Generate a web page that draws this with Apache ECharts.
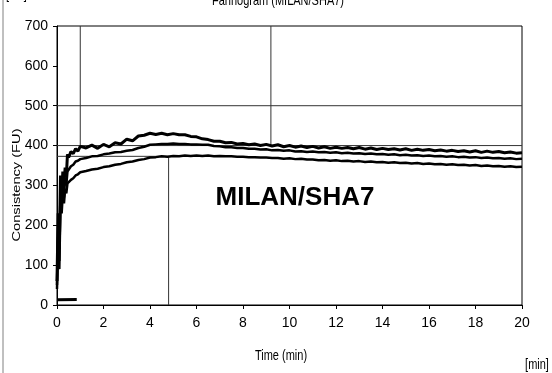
<!DOCTYPE html>
<html>
<head>
<meta charset="utf-8">
<script src="https://cdn.jsdelivr.net/npm/echarts@6/dist/echarts.min.js"></script>
<style>
  html, body { margin: 0; padding: 0; background: #fff; }
  #chart { width: 552px; height: 373px; }
</style>
</head>
<body>
<div id="chart"></div>
<script>
// time axis (min)
const times = [
  0, 0.05, 0.1, 0.15, 0.2, 0.25, 0.3, 0.35, 0.4, 0.45, 0.5, 0.6, 0.7, 0.8, 0.9, 1.0,
  1.25, 1.5, 1.75, 2, 2.25, 2.5, 2.75, 3, 3.25, 3.5, 3.75, 4,
  4.25, 4.5, 4.75, 5, 5.25, 5.5, 5.75, 6, 6.25, 6.5, 6.75, 7,
  7.25, 7.5, 7.75, 8, 8.25, 8.5, 8.75, 9, 9.25, 9.5, 9.75, 10,
  10.25, 10.5, 10.75, 11, 11.25, 11.5, 11.75, 12, 12.25, 12.5, 12.75, 13,
  13.25, 13.5, 13.75, 14, 14.25, 14.5, 14.75, 15, 15.25, 15.5, 15.75, 16,
  16.25, 16.5, 16.75, 17, 17.25, 17.5, 17.75, 18, 18.25, 18.5, 18.75, 19,
  19.25, 19.5, 19.75, 20
];

// upper curve (FU)
const upper = [
  60, 230, 140, 325, 270, 335, 300, 345, 320, 378, 370, 385, 380, 392, 386, 398,
  394, 401, 393, 403, 397, 407, 404, 416, 412, 424, 426, 431,
  428, 431, 427, 430, 427, 427, 423, 422, 417, 415, 411, 411,
  407, 408, 404, 405, 402, 404, 400, 403, 399, 402, 397, 400,
  396, 399, 395, 398, 394, 397, 393, 396, 393, 395, 392, 395,
  391, 394, 390, 393, 390, 392, 389, 392, 388, 391, 388, 390,
  387, 389, 386, 388, 385, 387, 384, 387, 383, 386, 383, 385,
  382, 384, 381, 382
];

// middle curve (FU)
const middle = [
  50, 200, 110, 290, 250, 310, 270, 320, 300, 335, 330, 348, 352, 360, 362, 366,
  369, 373, 374, 378, 380, 383, 384, 387, 389, 394, 397, 402,
  403, 404, 404, 405, 404, 404, 403, 403, 402, 402, 399, 398,
  396, 396, 394, 394, 392, 392, 390, 391, 388, 389, 387, 388,
  385, 386, 384, 385, 383, 384, 382, 383, 381, 382, 380, 381,
  379, 380, 378, 379, 377, 378, 376, 377, 375, 376, 374, 375,
  373, 374, 372, 373, 371, 372, 370, 371, 369, 370, 368, 369,
  367, 368, 366, 367
];

// lower curve (FU)
const lower = [
  40, 170, 90, 260, 230, 280, 255, 292, 280, 305, 302, 314, 318, 325, 328, 333,
  336, 340, 342, 346, 348, 352, 354, 358, 360, 364, 366, 370,
  371, 373, 372, 374, 373, 375, 374, 375, 374, 375, 373, 374,
  373, 373, 372, 372, 371, 371, 370, 370, 369, 369, 367, 368,
  366, 367, 365, 365, 363, 364, 362, 363, 361, 362, 360, 361,
  359, 360, 358, 359, 357, 358, 356, 357, 355, 356, 354, 355,
  353, 354, 352, 353, 351, 352, 350, 351, 349, 350, 348, 349,
  347, 348, 346, 347
];

// baseline stub near zero
const stubTimes = [0, 0.85];
const stubValues = [13, 14];

// reference lines: [x1, y1, x2, y2]
const refLines = [
  [0, 500, 20, 500],
  [0, 400, 20, 400],
  [1.0, 400, 1.0, 700],
  [9.2, 400, 9.2, 700],
  [0, 373, 4.8, 373],
  [4.8, 0, 4.8, 373]
];

const font = 'Liberation Sans, Arial, sans-serif';
const narrow = '"Liberation Sans Narrow", "Arial Narrow", "Liberation Sans", sans-serif';

function pairs(xs, ys) {
  return xs.map((x, i) => [x, ys[i]]);
}

const series = [];
refLines.forEach(l => {
  series.push({
    type: 'line',
    data: [[l[0], l[1]], [l[2], l[3]]],
    symbol: 'none',
    silent: true,
    lineStyle: { color: '#333', width: 1 },
    z: 1
  });
});
[[upper, 3], [middle, 2.5], [lower, 2.5]].forEach(c => {
  series.push({
    type: 'line',
    data: pairs(times, c[0]),
    symbol: 'none',
    lineStyle: { color: '#000', width: c[1] },
    z: 3
  });
});
series.push({
  type: 'line',
  data: pairs(stubTimes, stubValues),
  symbol: 'none',
  lineStyle: { color: '#000', width: 3 },
  z: 3
});

const myChart = echarts.init(document.getElementById('chart'));
const option = {
  animation: false,
  backgroundColor: '#fff',
  grid: {
    left: 57,
    right: 30,
    top: 26,
    bottom: 68,
    show: true,
    borderColor: '#000',
    borderWidth: 1
  },
  xAxis: {
    type: 'value',
    min: 0,
    max: 20,
    interval: 2,
    axisLine: { show: true, onZero: false, lineStyle: { color: '#000', width: 1 } },
    axisTick: { show: true, length: 4, lineStyle: { color: '#000' } },
    axisLabel: { color: '#000', fontSize: 14, fontFamily: narrow, margin: 11 },
    splitLine: { show: false }
  },
  yAxis: {
    type: 'value',
    min: 0,
    max: 700,
    interval: 100,
    axisLine: { show: true, lineStyle: { color: '#000', width: 1 } },
    axisTick: { show: true, length: 4, lineStyle: { color: '#000' } },
    axisLabel: { color: '#000', fontSize: 14, fontFamily: narrow, margin: 9 },
    splitLine: { show: false }
  },
  graphic: [
    {
      type: 'line',
      shape: { x1: 3, y1: 0, x2: 3, y2: 373 },
      style: { stroke: '#808080', lineWidth: 1 }
    },
    {
      type: 'text', x: 6, y: 2, scaleY: 1.3,
      style: { text: '[FU]', font: '11px ' + font, fill: '#000', textAlign: 'left', textVerticalAlign: 'bottom' }
    },
    {
      type: 'text', x: 278, y: 8, scaleY: 1.3,
      style: { text: 'Farinogram (MILAN/SHA7)', font: '11px ' + font, fill: '#000', textAlign: 'center', textVerticalAlign: 'bottom' }
    },
    {
      type: 'text', x: 17, y: 185, rotation: Math.PI / 2, scaleX: 1.33,
      style: { text: 'Consistency (FU)', font: '11px ' + font, fill: '#000', textAlign: 'center', textVerticalAlign: 'middle' }
    },
    {
      type: 'text', x: 281, y: 356, scaleY: 1.3,
      style: { text: 'Time (min)', font: '11px ' + font, fill: '#000', textAlign: 'center', textVerticalAlign: 'middle' }
    },
    {
      type: 'text', x: 537, y: 365, scaleY: 1.3,
      style: { text: '[min]', font: '11px ' + font, fill: '#000', textAlign: 'center', textVerticalAlign: 'middle' }
    },
    {
      type: 'text', x: 295, y: 198,
      style: { text: 'MILAN/SHA7', font: 'bold 26px ' + font, fill: '#000', textAlign: 'center', textVerticalAlign: 'middle' }
    }
  ],
  series: series
};
myChart.setOption(option);
</script>
</body>
</html>
